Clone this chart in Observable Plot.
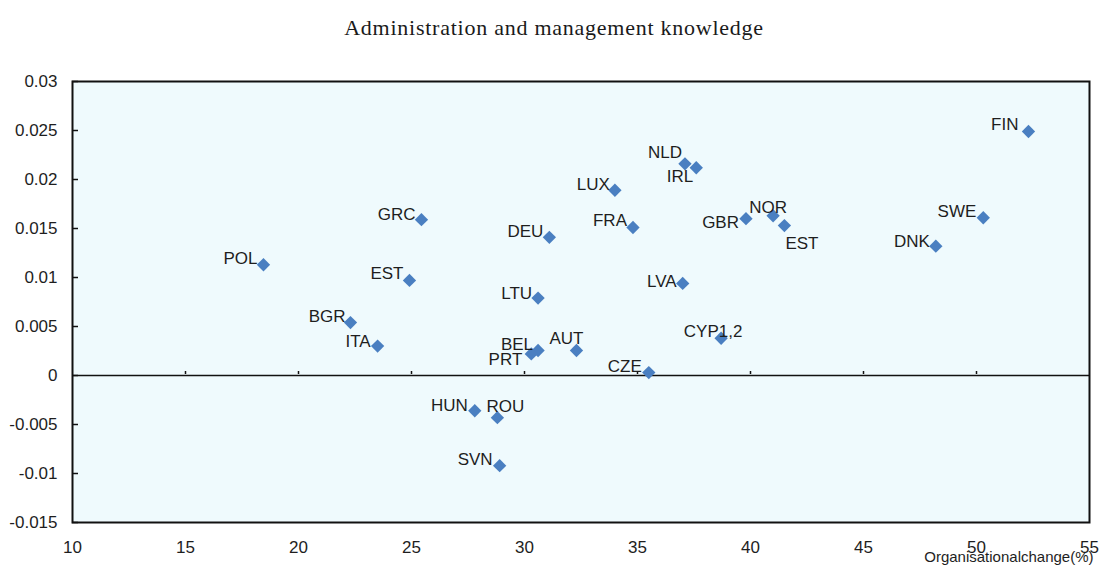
<!DOCTYPE html>
<html>
<head>
<meta charset="utf-8">
<script src="https://cdn.jsdelivr.net/npm/d3@7"></script>
<script src="https://cdn.jsdelivr.net/npm/@observablehq/plot@0.6"></script>
<style>
  html, body { margin: 0; padding: 0; background: #fff; }
  #title { height: 50px; line-height: 56px; text-align: center; font-family: "Liberation Serif", "DejaVu Serif", serif; font-size: 22px; color: #1a1a1a; letter-spacing: 0.75px; }
</style>
</head>
<body>
<div id="title">Administration and management knowledge</div>
<div id="chart"></div>
<script>
const countries = ["POL","GRC","EST","BGR","ITA","DEU","LTU","BEL","PRT","AUT","LUX","FRA","NLD","IRL","LVA","CZE","CYP1,2","GBR","NOR","EST","DNK","SWE","FIN","HUN","ROU","SVN"];
const orgChange = [18.45,25.44,24.91,22.3,23.5,31.1,30.6,30.6,30.3,32.3,34.0,34.8,37.1,37.6,37.0,35.5,38.7,39.8,41.0,41.5,48.2,50.3,52.3,27.8,28.8,28.9];
const adminKnowledge = [0.0113,0.0159,0.0097,0.0054,0.0030,0.0141,0.0079,0.00255,0.0022,0.00255,0.0189,0.0151,0.0216,0.0212,0.0094,0.0003,0.0038,0.0160,0.0163,0.0153,0.0132,0.0161,0.0249,-0.0036,-0.0043,-0.0092];
const xTicks = [10,15,20,25,30,35,40,45,50,55];
const yTicks = [-0.015,-0.01,-0.005,0,0.005,0.01,0.015,0.02,0.025,0.03];
const yTickLabels = ["-0.015","-0.01","-0.005","0","0.005","0.01","0.015","0.02","0.025","0.03"];
const xLabel = "Organisationalchange(%)";

// label placement (style only): [dx, dy, anchor]
const labelPlacement = [
  [-6,-6,"end"],[-6,-5,"end"],[-6,-7,"end"],[-5,-6,"end"],[-7,-5,"end"],
  [-6,-6,"end"],[-6,-5,"end"],[-5,-6,"end"],[-9,6,"end"],[-10,-12,"middle"],
  [-5,-6,"end"],[-6,-7,"end"],[-3,-11,"end"],[-3,9,"end"],[-6,-2,"end"],
  [-7,-6,"end"],[-8,-7,"middle"],[-7,4,"end"],[-5,-8,"middle"],[1,18,"start"],
  [-6,-5,"end"],[-7,-6,"end"],[-10,-7,"end"],[-7,-5,"end"],[-11,-11,"start"],[-7,-6,"end"]
];

const data = countries.map((c, i) => ({country: c, x: orgChange[i], y: adminKnowledge[i], i}));
const font = "Liberation Sans, Arial, sans-serif";
const bg = "#effafd";

const labelMarks = data.map(d => {
  const [dx, dy, anchor] = labelPlacement[d.i];
  return Plot.text([d], {x: "x", y: "y", text: "country", dx, dy, textAnchor: anchor,
    fontSize: 17, fill: "#1e1e1e", fontFamily: font, style: "letter-spacing:-0.9px"});
});

const chart = Plot.plot({
  width: 1108,
  height: 520,
  marginTop: 31,
  marginBottom: 48,
  marginLeft: 72,
  marginRight: 19,
  style: {fontFamily: font, fontSize: "17px", color: "#1e1e1e", background: "transparent"},
  x: {domain: [10, 55], ticks: xTicks},
  y: {domain: [-0.015, 0.03], ticks: yTicks},
  marks: [
    Plot.frame({fill: bg, stroke: null}),
    Plot.axisX({ticks: xTicks, tickSize: 0, tickPadding: 18, label: null, fontSize: 17, style: "letter-spacing:-0.7px"}),
    Plot.axisY({ticks: yTicks, tickSize: 0, tickPadding: 15, label: null, tickFormat: (d) => yTickLabels[yTicks.indexOf(d)], fontSize: 17, style: "letter-spacing:-0.6px"}),
    Plot.axisY({ticks: yTicks, tickSize: 6, dx: 6, tickFormat: () => "", label: null, stroke: "#111", strokeWidth: 1.5}),
    Plot.ruleY([0], {stroke: "#111", strokeWidth: 1.5}),
    Plot.ruleX(xTicks.slice(1, -1), {x: d => d, y1: 0, y2: 0, insetTop: -1, insetBottom: 4, stroke: "#111", strokeWidth: 1.5}),
    Plot.dot(data, {x: "x", y: "y", symbol: "diamond2", r: 6, fill: "#4a7fc1", stroke: "none"}),
    ...labelMarks,
    Plot.frame({stroke: "#111", strokeWidth: 2}),
    Plot.text([xLabel], {frameAnchor: "bottom-right", text: d => d, dy: 39, dx: 4, textAnchor: "end", fontSize: 15, fill: "#1e1e1e", style: "letter-spacing:-1px"})
  ]
});
document.getElementById("chart").appendChild(chart);
</script>
</body>
</html>
